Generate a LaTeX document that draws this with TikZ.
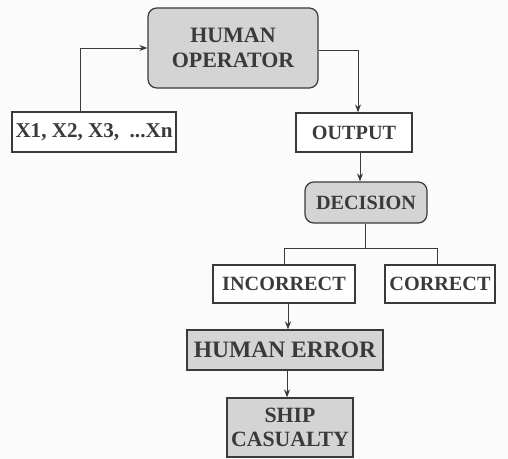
\documentclass[tikz,border=0pt]{standalone}
\usepackage{fontspec}
\setmainfont{Liberation Serif}
\usetikzlibrary{arrows.meta,positioning}
\definecolor{ink}{HTML}{3A3A3A}
\definecolor{paper}{HTML}{FBFBFB}
\definecolor{shade}{HTML}{D4D4D4}
\newcommand{\eleven}{\fontsize{11.5}{13}\selectfont}
\tikzset{
 every node/.append style={font=\eleven\bfseries,text=ink,align=center},
 box/.style={draw=ink,fill=white,line width=.7pt,inner sep=2pt},
 grey/.style={box,fill=shade},
 soft/.style={grey,rounded corners=5pt},
 flow/.style={-{Stealth[length=1.6mm,width=1.2mm]},draw=ink,line width=.5pt},
 route/.style={draw=ink,line width=.5pt},
}

\begin{document}
\begin{tikzpicture}

\fill[paper] (0,0) rectangle (10.16,-9.18);
\useasboundingbox (0,0) rectangle (10.16,-9.18);
\node[soft,minimum width=34mm,minimum height=16mm,font=\fontsize{12.5}{14.5}\selectfont\bfseries] (op) at (4.66,-0.96) {HUMAN\\OPERATOR};
\node[box,minimum width=32.8mm,minimum height=8mm,font=\fontsize{12}{14}\selectfont\bfseries] (inputs) at (1.88,-2.64) {X1, X2, X3, \ ...Xn};
\node[box,minimum width=23.2mm,minimum height=7.8mm] (output) at (7.08,-2.65) {OUTPUT};
\node[soft,minimum width=24.4mm,minimum height=8.2mm] (decision) at (7.32,-4.05) {DECISION};
\node[box,minimum width=28.4mm,minimum height=7.6mm] (incorrect) at (5.68,-5.68) {INCORRECT};
\node[box,minimum width=22mm,minimum height=7.6mm] (correct) at (8.8,-5.68) {CORRECT};
\node[grey,minimum width=39.2mm,minimum height=8mm,font=\fontsize{13.4}{15}\selectfont\bfseries] (error) at (5.7,-7.0) {HUMAN ERROR};
\node[grey,minimum width=25.2mm,minimum height=11.8mm,font=\fontsize{12.4}{14}\selectfont\bfseries] (casualty) at (5.8,-8.55) {SHIP\\CASUALTY};
\coordinate (split) at (7.3,-4.96);
\draw[flow] ([xshift=-2.8mm]inputs.north) |- (op.west);
\draw[flow] ([yshift=-.4mm]op.east) -| ([xshift=.8mm]output.north);
\draw[flow] ([xshift=1.2mm]output.south) -- ([xshift=1.2mm]output.south |- decision.north);
\draw[route] (decision.south -| split) -- (split);
\draw[route] (split) -| (incorrect.north);
\draw[route] (split) -| ([xshift=-.6mm]correct.north);
\draw[flow] ([xshift=.8mm]incorrect.south) -- ([xshift=.8mm]incorrect.south |- error.north);
\draw[flow] ([xshift=.4mm]error.south) -- ([xshift=.4mm]error.south |- casualty.north);

\end{tikzpicture}
\end{document}
